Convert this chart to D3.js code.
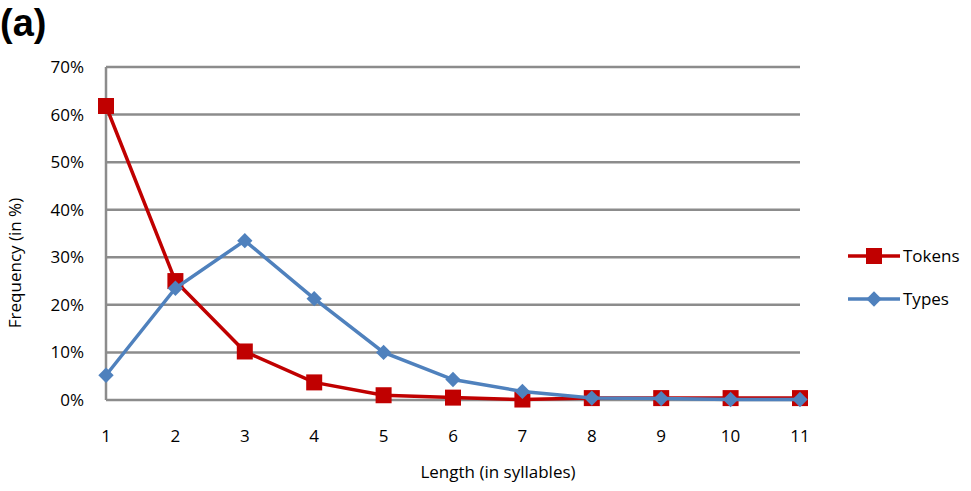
<!DOCTYPE html>
<html><head><meta charset="utf-8">
<script src="https://cdn.jsdelivr.net/npm/d3@7"></script>
<style>body{margin:0;background:#fff}text{font-family:"Open Sans",sans-serif}</style>
</head><body><svg id="c" width="971" height="491"></svg>
<script>
const lengths = [1,2,3,4,5,6,7,8,9,10,11];
const tokens = [61.8,25.0,10.2,3.7,1.0,0.5,0.1,0.4,0.4,0.4,0.4];
const types = [5.2,23.5,33.5,21.3,10.0,4.3,1.8,0.4,0.3,0.1,0.1];
const yTicks = [0,10,20,30,40,50,60,70];

const svg = d3.select("#c");
const x = d3.scaleLinear().domain([1,11]).range([106,800]);
const y = d3.scaleLinear().domain([0,70]).range([400,67]);

svg.selectAll(".g").data(yTicks).enter().append("line")
  .attr("x1",106).attr("x2",800).attr("y1",d=>y(d)).attr("y2",d=>y(d))
  .attr("stroke","#8c8c8c").attr("stroke-width",2.5);
svg.append("line").attr("x1",106).attr("x2",106).attr("y1",y(70)).attr("y2",y(0))
  .attr("stroke","#8c8c8c").attr("stroke-width",2.5);

svg.selectAll(".yt").data(yTicks).enter().append("text")
  .attr("x",84).attr("y",d=>y(d)+6).attr("text-anchor","end")
  .attr("font-size",17).text(d=>d+"%");
svg.selectAll(".xt").data(lengths).enter().append("text")
  .attr("x",d=>x(d)).attr("y",442).attr("text-anchor","middle")
  .attr("font-size",17).text(d=>d);

svg.append("text").attr("x",498).attr("y",478).attr("text-anchor","middle").attr("font-size",17).text("Length (in syllables)");
svg.append("text").attr("transform","translate(21,263) rotate(-90)").attr("text-anchor","middle").attr("font-size",17).text("Frequency (in %)");
svg.append("text").attr("x",0).attr("y",36).attr("font-size",38).attr("font-weight","bold")
  .style("font-family","Arial,'Liberation Sans',sans-serif").text("(a)");

const line = d3.line().x((d,i)=>x(lengths[i])).y(d=>y(d));
const red="#c00000", blue="#4f81bd";
svg.append("path").attr("d",line(tokens)).attr("fill","none").attr("stroke",red).attr("stroke-width",3.5);
svg.selectAll(".tm").data(tokens).enter().append("rect")
  .attr("x",(d,i)=>x(lengths[i])-8).attr("y",d=>y(d)-8).attr("width",16).attr("height",16).attr("fill",red);
svg.append("path").attr("d",line(types)).attr("fill","none").attr("stroke",blue).attr("stroke-width",3.5);
const diamond = d3.symbol().type(d3.symbolDiamond2).size(150);
svg.selectAll(".dm").data(types).enter().append("path").attr("d",diamond)
  .attr("transform",(d,i)=>`translate(${x(lengths[i])},${y(d)})`).attr("fill",blue);

// legend
svg.append("line").attr("x1",848).attr("x2",900).attr("y1",256).attr("y2",256).attr("stroke",red).attr("stroke-width",3.5);
svg.append("rect").attr("x",866).attr("y",248).attr("width",16).attr("height",16).attr("fill",red);
svg.append("text").attr("x",903).attr("y",262).attr("font-size",17).text("Tokens");
svg.append("line").attr("x1",848).attr("x2",900).attr("y1",299).attr("y2",299).attr("stroke",blue).attr("stroke-width",3.5);
svg.append("path").attr("d",diamond).attr("transform","translate(874,299)").attr("fill",blue);
svg.append("text").attr("x",903).attr("y",305).attr("font-size",17).text("Types");
</script></body></html>
